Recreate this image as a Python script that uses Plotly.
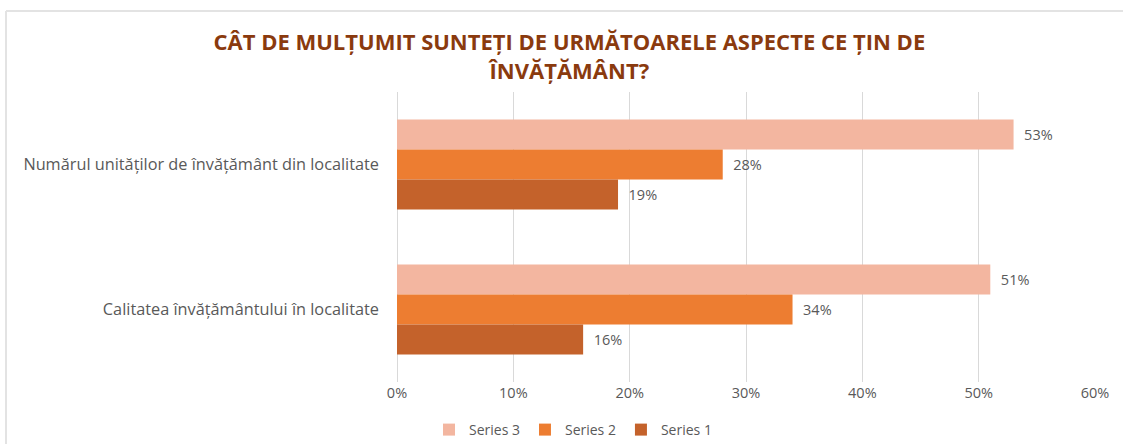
import plotly.graph_objects as go

categories = ["Numărul unităților de învățământ din localitate", "Calitatea învățământului în localitate"]
series_names = ["Series 3", "Series 2", "Series 1"]
series3 = [0.53, 0.51]
series2 = [0.28, 0.34]
series1 = [0.19, 0.16]
tick_vals = [0, 0.1, 0.2, 0.3, 0.4, 0.5, 0.6]
tick_text = ["0%", "10%", "20%", "30%", "40%", "50%", "60%"]
colors = ["#F3B6A0", "#ED7D31", "#C4622B"]

fig = go.Figure()
for name, vals, col in zip(series_names, [series3, series2, series1], colors):
    fig.add_trace(go.Bar(
        y=categories, x=vals, name=name, orientation="h",
        marker=dict(color=col, line=dict(width=0)),
        text=["\u00a0\u00a0" + f"{round(v*100)}%" for v in vals], textposition="outside",
        textfont=dict(color="#595959", size=14.5, family="Open Sans"),
        cliponaxis=False,
    ))

PT, PB, PL, PR = 92, 62, 397, 28
PH = 444 - PT - PB
PW = 1123 - PL - PR

fig.update_layout(
    width=1123, height=444,
    margin=dict(l=PL, r=PR, t=PT, b=PB, autoexpand=False),
    paper_bgcolor="white", plot_bgcolor="white",
    barmode="group", bargap=0.38, bargroupgap=0,
    title=dict(
        text="<b>CÂT DE MULȚUMIT SUNTEȚI DE URMĂTOARELE ASPECTE CE ȚIN DE<br>ÎNVĂȚĂMÂNT?</b>",
        x=0.507, xref="container", xanchor="center", y=1 - 50/444, yref="container", yanchor="middle",
        font=dict(family="Open Sans", size=22, color="#8A3A0E"),
    ),
    font=dict(family="Open Sans", color="#595959"),
    xaxis=dict(
        range=[0, 0.6], tickvals=tick_vals, ticktext=tick_text,
        showgrid=True, gridcolor="#D9D9D9", gridwidth=1,
        zeroline=True, zerolinecolor="#D9D9D9", zerolinewidth=1,
        tickfont=dict(size=14.5, color="#595959"), ticks="", showline=False,
    ),
    yaxis=dict(
        autorange="reversed", showgrid=False, ticks="", showline=False,
        tickfont=dict(size=16.3, color="#595959"), ticklabelstandoff=17,
    ),
    legend=dict(
        orientation="h", x=(573 - PL)/PW, xref="paper", xanchor="center",
        y=-(430 - (PT + PH))/PH, yanchor="middle", traceorder="normal",
        font=dict(size=14, color="#595959"), itemwidth=30,
    ),
    shapes=[
        dict(type="line", xref="paper", yref="paper",
             x0=(6-PL)/PW, x1=(1125-PL)/PW, y0=(PT+PH-11)/PH, y1=(PT+PH-11)/PH,
             line=dict(color="#E3E3E3", width=2)),
        dict(type="line", xref="paper", yref="paper",
             x0=(6-PL)/PW, x1=(6-PL)/PW, y0=(PT+PH-11)/PH, y1=(PT+PH-446)/PH,
             line=dict(color="#E3E3E3", width=2)),
    ],
)

fig.write_html("out.html", config={"displayModeBar": False},
               post_script="document.body.style.margin='0';document.body.style.padding='0';document.body.style.overflow='hidden';")
